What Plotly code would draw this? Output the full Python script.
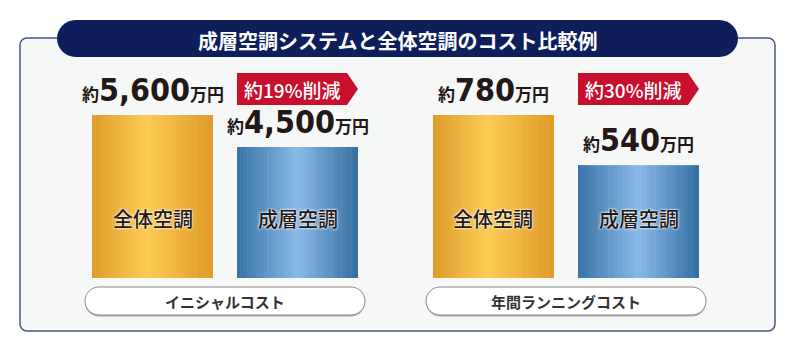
import plotly.graph_objects as go

# ---------------- data ----------------
categories = ["全体空調", "成層空調"]
groups = ["イニシャルコスト", "年間ランニングコスト"]
initial_cost = [5600, 4500]          # 万円
running_cost = [780, 540]            # 万円
initial_labels = ["5,600", "4,500"]
running_labels = ["780", "540"]
reduction_labels = ["約19%削減", "約30%削減"]
title_text = "成層空調システムと全体空調のコスト比較例"

# ---------------- styling ----------------
W, H = 794, 352
JP = "Noto Sans CJK JP"
NUMF = "'Liberation Sans Narrow', 'DejaVu Sans Condensed', Roboto"
BW = 0.8345
NSL = 36
gold = [(0.0, (222, 156, 42)), (0.45, (251, 203, 82)), (1.0, (224, 154, 40))]
blue = [(0.0, (56, 114, 166)), (0.5, (136, 186, 230)), (1.0, (52, 110, 160))]


def px(x):
    return x / W


def py(y):
    return 1 - y / H


def grad(stops, t):
    for (t0, c0), (t1, c1) in zip(stops[:-1], stops[1:]):
        if t0 <= t <= t1:
            f = (t - t0) / (t1 - t0)
            c = [round(a + (b - a) * f) for a, b in zip(c0, c1)]
            return "rgb(%d,%d,%d)" % tuple(c)
    return "rgb(%d,%d,%d)" % stops[-1][1]


def rrect(x0, y0, x1, y1, r):
    k = 0.5523 * r
    pts = [
        ("M", [(x0 + r, y0)]),
        ("L", [(x1 - r, y0)]),
        ("C", [(x1 - r + k, y0), (x1, y0 + r - k), (x1, y0 + r)]),
        ("L", [(x1, y1 - r)]),
        ("C", [(x1, y1 - r + k), (x1 - r + k, y1), (x1 - r, y1)]),
        ("L", [(x0 + r, y1)]),
        ("C", [(x0 + r - k, y1), (x0, y1 - r + k), (x0, y1 - r)]),
        ("L", [(x0, y0 + r)]),
        ("C", [(x0, y0 + r - k), (x0 + r - k, y0), (x0 + r, y0)]),
    ]
    s = ""
    for cmd, ps in pts:
        s += cmd + " " + " ".join("%.5f,%.5f" % (px(a), py(b)) for a, b in ps) + " "
    return s + "Z"


fig = go.Figure()

group_data = [(initial_cost, initial_labels), (running_cost, running_labels)]
domains = [[80 / W, 370 / W], [421 / W, 711 / W]]
axis_ids = [("x", "y"), ("x2", "y2")]

annotations = []
shapes = []

# panel
shapes.append(dict(type="path", path=rrect(20, 38, 775, 331, 7), xref="paper", yref="paper",
                   fillcolor="#f6f7f7", line=dict(color="#4a5784", width=1.5), layer="below"))
# title pill
shapes.append(dict(type="path", path=rrect(57, 20, 738, 57, 18.5), xref="paper", yref="paper",
                   fillcolor="#0e1e5b", line=dict(width=0), layer="above"))
annotations.append(dict(x=px(397.5), y=py(40), xref="paper", yref="paper", text=title_text,
                        xanchor="center", yanchor="middle", showarrow=False,
                        font=dict(family=JP, size=20, color="white", weight="bold")))

for g, ((vals, labs), (xa, ya)) in enumerate(zip(group_data, axis_ids)):
    for i, (cat, v) in enumerate(zip(categories, vals)):
        stops = gold if i == 0 else blue
        w = BW / NSL
        fig.add_trace(go.Bar(
            x=[cat] * NSL, y=[v] * NSL,
            width=[w * 1.15] * (NSL - 1) + [w],
            offset=[-BW / 2 + k * w for k in range(NSL)],
            marker=dict(color=[grad(stops, (k + 0.5) / NSL) for k in range(NSL)], line=dict(width=0)),
            xaxis=xa, yaxis=ya, hoverinfo="skip", showlegend=False,
        ))
        # value label
        annotations.append(dict(
            x=cat, y=v, xref=xa, yref=ya, xanchor="center", yanchor="bottom", yshift=4,
            showarrow=False,
            text=("約<span style=\"font-family:%s;font-size:32px;font-weight:bold\">%s</span>万円"
                  % (NUMF, labs[i])),
            font=dict(family=JP, size=17, color="#231815", weight="bold"),
        ))
        # category label inside bar
        annotations.append(dict(
            x=cat, y=0.368, xref=xa, yref=ya + " domain", xanchor="center", yanchor="middle",
            showarrow=False, text=cat,
            font=dict(family=JP, size=20, color="#231815", weight=500,
                      shadow="0 0 2px #fff, 0 0 3px #fff"),
        ))
    # reduction tag above second bar
    tip = 11 / 145
    xl, xr = 1 - BW / 2, 1 + BW / 2
    path = ("M %.4f,%.5f L %.4f,%.5f L %.4f,%.5f L %.4f,%.5f L %.4f,%.5f Z" % (
        xl, py(73), xr - tip, py(73), xr, py(89), xr - tip, py(105), xl, py(105)))
    shapes.append(dict(type="path", path=path, xref=xa, yref="paper",
                       fillcolor="#c8102e", line=dict(width=0)))
    annotations.append(dict(x=1 - tip / 2, y=py(89), xref=xa, yref="paper", showarrow=False,
                            xanchor="center", yanchor="middle",
                            text=reduction_labels[g],
                            font=dict(family=JP, size=19, color="white", weight=500)))
    # group pill label
    d0, d1 = domains[g]
    x0 = d0 * W + 5
    x1 = d1 * W - 5
    shapes.append(dict(type="path", path=rrect(x0, 288.5, x1, 316.5, 14), xref="paper", yref="paper",
                       fillcolor="#b0b0b0", line=dict(width=0)))
    shapes.append(dict(type="path", path=rrect(x0, 287, x1, 315, 14), xref="paper", yref="paper",
                       fillcolor="white", line=dict(color="#8a8a8a", width=1)))
    annotations.append(dict(x=px((x0 + x1) / 2), y=py(301.5), xref="paper", yref="paper",
                            xanchor="center", yanchor="middle",
                            showarrow=False, text=groups[g],
                            font=dict(family=JP, size=15, color="#333333", weight="bold")))

ydom = [py(278), py(115)]
fig.update_layout(
    width=W, height=H, margin=dict(l=0, r=0, t=0, b=0),
    paper_bgcolor="white", plot_bgcolor="rgba(0,0,0,0)",
    barmode="overlay", showlegend=False,
    xaxis=dict(domain=domains[0], range=[-0.5, 1.5], type="category", categoryarray=categories,
               visible=False, fixedrange=True),
    yaxis=dict(domain=ydom, range=[0, max(initial_cost)], visible=False, fixedrange=True),
    xaxis2=dict(domain=domains[1], range=[-0.5, 1.5], type="category", categoryarray=categories,
                visible=False, anchor="y2", fixedrange=True),
    yaxis2=dict(domain=ydom, range=[0, max(running_cost)], visible=False, anchor="x2", fixedrange=True),
    shapes=shapes, annotations=annotations,
)

fig.write_html("out.html")
